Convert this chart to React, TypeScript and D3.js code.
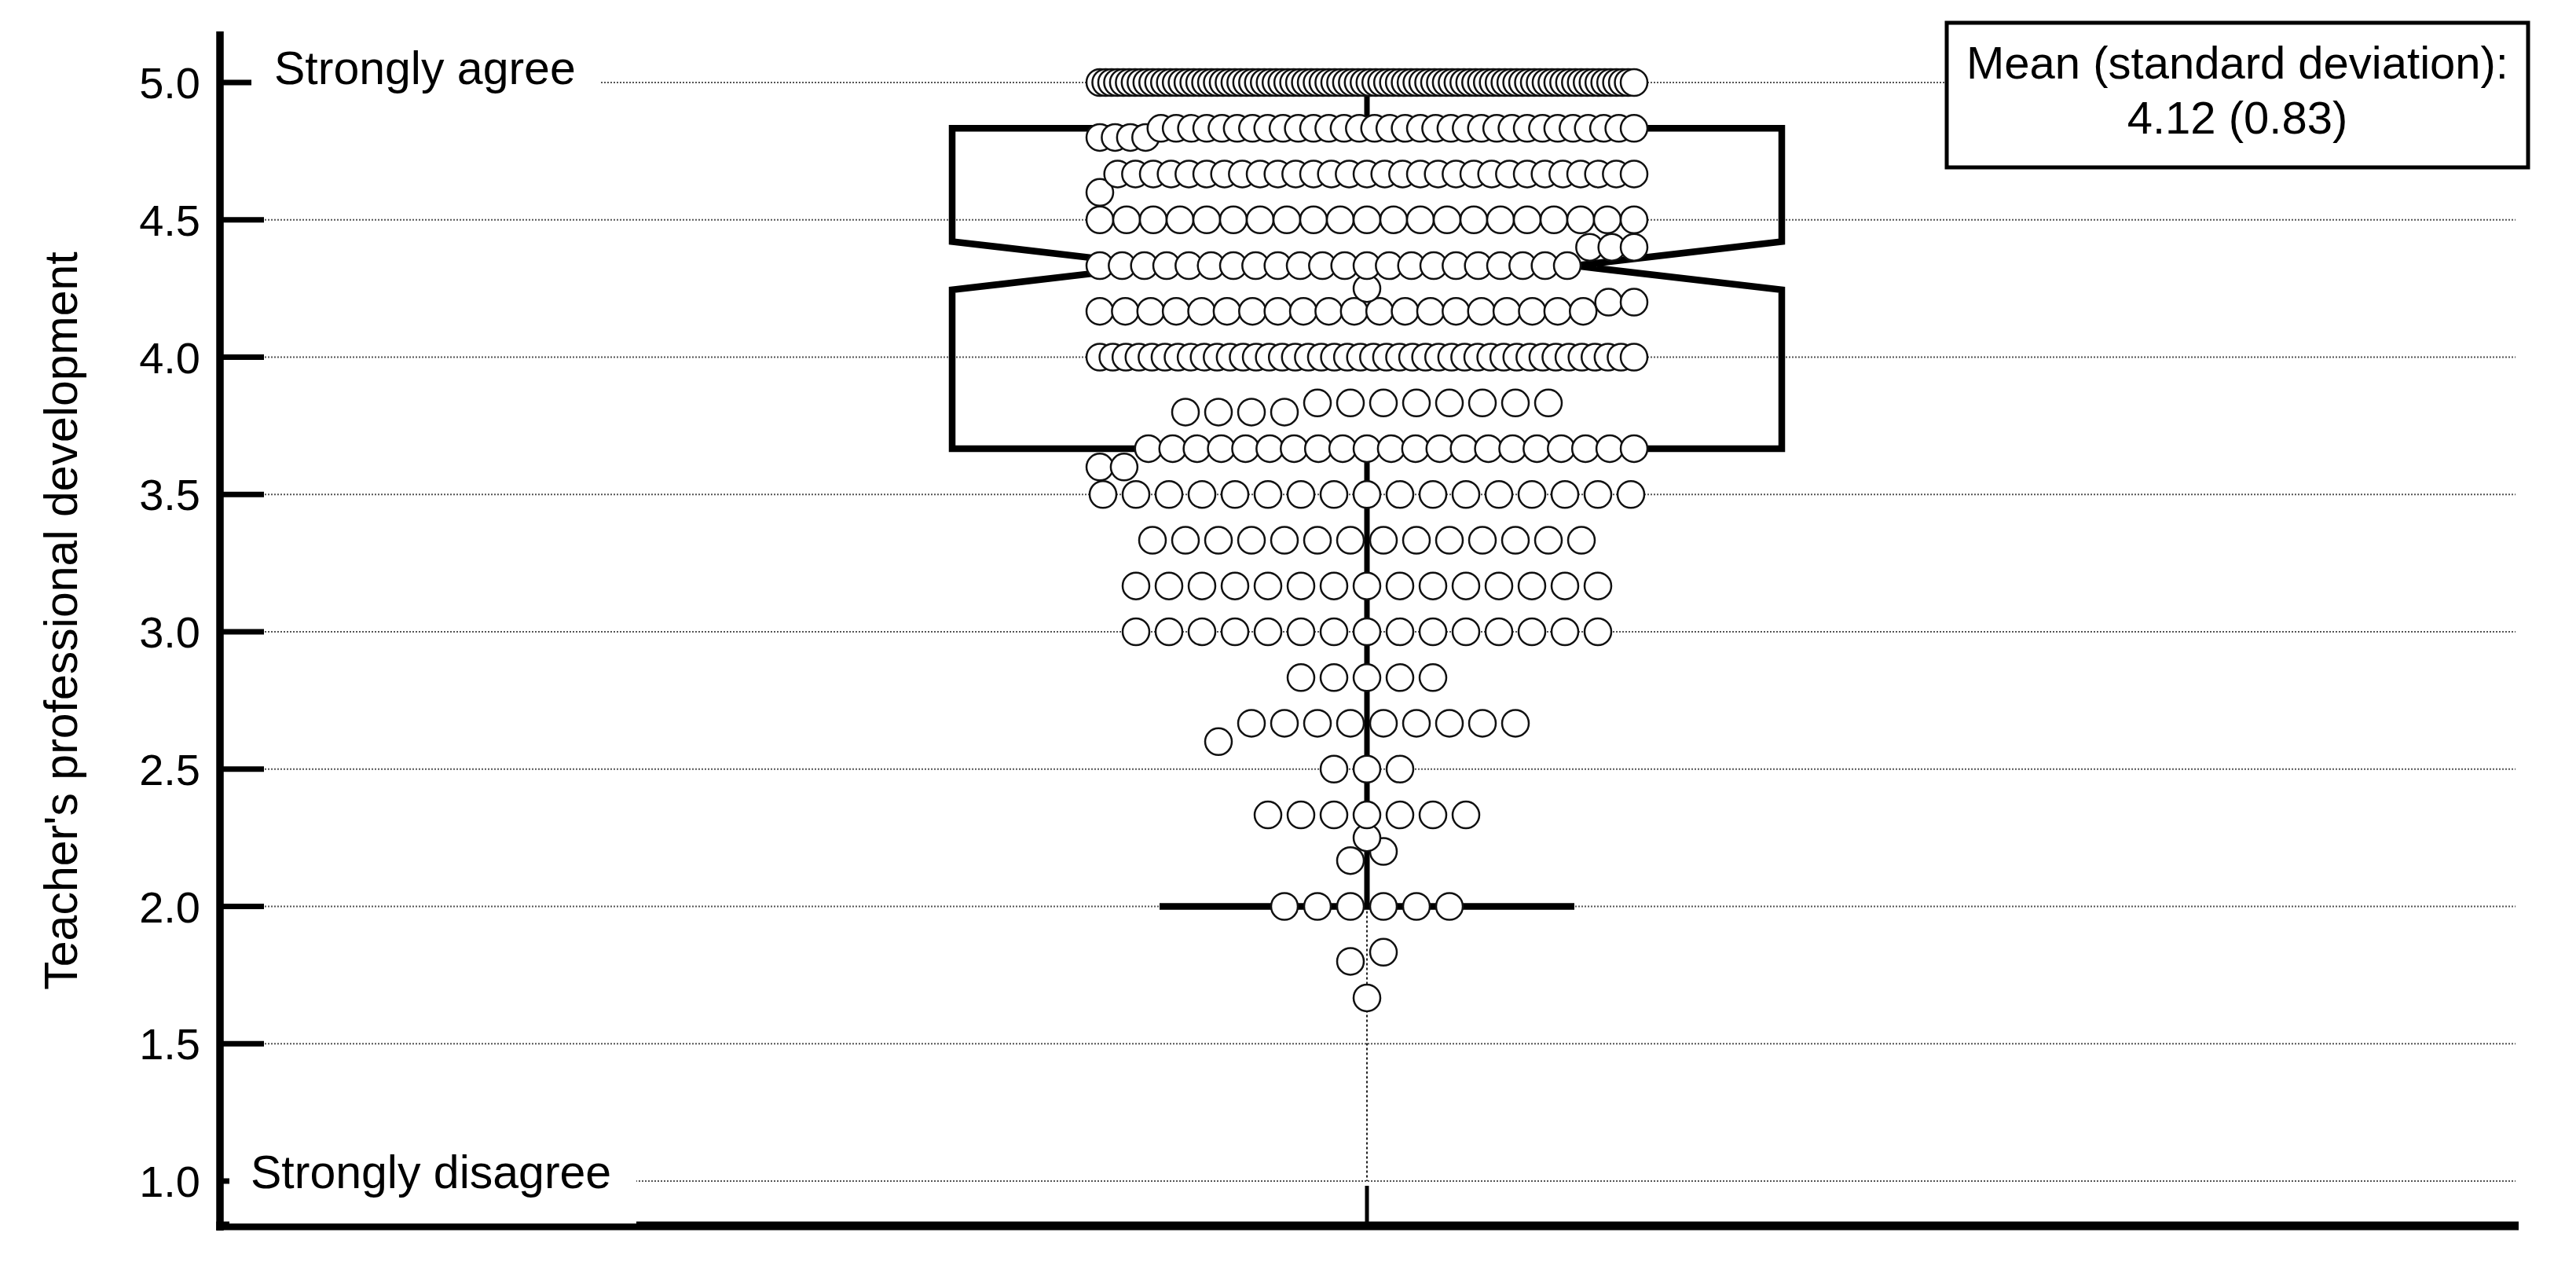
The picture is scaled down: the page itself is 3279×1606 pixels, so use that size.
import React from "react";
import * as d3 from "d3";

// scale scores (means of items, 1 = strongly disagree, 5 = strongly agree) and how many respondents gave each
const scoreValues = [
  1.667, 1.8, 1.833, 2.0, 2.167, 2.2, 2.25, 2.333, 2.5, 2.6, 2.667, 2.833, 3.0, 3.167, 3.333, 3.5,
  3.6, 3.667, 3.8, 3.833, 4.0, 4.167, 4.2, 4.25, 4.333, 4.4, 4.5, 4.6, 4.667, 4.8, 4.833, 5.0,
];
const scoreCounts = [
  1, 1, 1, 6, 1, 1, 1, 7, 3, 1, 9, 5, 15, 15, 14, 17,
  2, 21, 4, 8, 42, 20, 2, 1, 22, 3, 21, 1, 30, 4, 32, 92,
];

const category = ["Teacher's professional development"];
const quartiles = [3.667, 4.333, 4.833]; // q1, median, q3
const notch = [4.245, 4.421];
const whiskers = [2.0, 5.0];
const yTicks = [1.0, 1.5, 2.0, 2.5, 3.0, 3.5, 4.0, 4.5, 5.0];
const endLabels = ["Strongly disagree", "Strongly agree"];
const statsLines = ["Mean (standard deviation):", "4.12 (0.83)"];

const W = 3279;
const H = 1606;
const FONT = "'Liberation Sans', Arial, Helvetica, sans-serif";

const App = () => {
  const y = d3.scaleLinear().domain([1, 5]).range([1503, 105]);
  const x = d3.scalePoint().domain(category).range([280, 3200]).padding(0.5);
  const cx = x(category[0]) as number;

  const boxHalf = 528;
  const notchHalf = boxHalf / 2;
  const r = 17;
  const maxStep = 42;
  const maxSpan = 680;

  // one dot per respondent, grouped into rows by the nearest sixth (4.25 / 2.25 stay on their own)
  const points = scoreValues.flatMap((v, i) => d3.range(scoreCounts[i]).map(() => v));
  const binKey = (v: number) => {
    const k = v * 6;
    const rk = Math.round(k);
    return Math.abs(k - rk) < 0.45 ? rk : k;
  };
  const bins = d3.groups(points, binKey).sort((a, b) => a[0] - b[0]);
  const dots: { x: number; y: number }[] = [];
  bins.forEach(([, vals]) => {
    const sorted = vals.slice().sort(d3.ascending);
    const n = sorted.length;
    const step = n > 1 ? Math.min(maxStep, maxSpan / (n - 1)) : 0;
    sorted.forEach((v, j) => {
      dots.push({ x: cx + (j - (n - 1) / 2) * step, y: y(v) });
    });
  });

  const [q1, med, q3] = quartiles;
  const L = cx - boxHalf;
  const R = cx + boxHalf;
  const boxPath = d3.path();
  boxPath.moveTo(L, y(q3));
  boxPath.lineTo(R, y(q3));
  boxPath.lineTo(R, y(notch[1]));
  boxPath.lineTo(cx + notchHalf, y(med));
  boxPath.lineTo(R, y(notch[0]));
  boxPath.lineTo(R, y(q1));
  boxPath.lineTo(L, y(q1));
  boxPath.lineTo(L, y(notch[0]));
  boxPath.lineTo(cx - notchHalf, y(med));
  boxPath.lineTo(L, y(notch[1]));
  boxPath.closePath();

  const axisX = 280;
  const axisBottom = 1560;
  const fmt = d3.format(".1f");

  const legendX = 2478;
  const legendW = 740;

  return (
    <div style={{ position: "absolute", left: 0, top: 0 }}>
      <svg width={W} height={H} style={{ display: "block", background: "#fff" }} fontFamily={FONT}>
        <rect x={0} y={0} width={W} height={H} fill="#fff" />

        {/* grid */}
        {yTicks.map((t) => (
          <line key={"g" + t} x1={axisX + 5} x2={3202} y1={y(t)} y2={y(t)}
            stroke="#555" strokeWidth={2} strokeDasharray="2,2" />
        ))}
        <line x1={cx} x2={cx} y1={y(whiskers[0])} y2={y(1)} stroke="#222" strokeWidth={2} strokeDasharray="3,3" />

        {/* notched box + whiskers */}
        <path d={boxPath.toString()} fill="none" stroke="#000" strokeWidth={8.5} strokeLinejoin="miter" />
        <line x1={cx - notchHalf} x2={cx + notchHalf} y1={y(med)} y2={y(med)} stroke="#000" strokeWidth={8} />
        <line x1={cx} x2={cx} y1={y(q3)} y2={y(whiskers[1])} stroke="#000" strokeWidth={7} />
        <line x1={cx} x2={cx} y1={y(q1)} y2={y(whiskers[0])} stroke="#000" strokeWidth={7} />
        {whiskers.map((w) => (
          <line key={"c" + w} x1={cx - notchHalf} x2={cx + notchHalf} y1={y(w)} y2={y(w)} stroke="#000" strokeWidth={8.5} />
        ))}

        {/* dots */}
        {dots.map((d, i) => (
          <circle key={i} cx={d.x} cy={d.y} r={r} fill="#fff" stroke="#111" strokeWidth={2.5} />
        ))}

        {/* axes */}
        <line x1={axisX} x2={axisX} y1={40} y2={axisBottom + 6} stroke="#000" strokeWidth={9.5} />
        {yTicks.map((t) => (
          <line key={"t" + t} x1={axisX} x2={336} y1={y(t)} y2={y(t)} stroke="#000" strokeWidth={7} />
        ))}
        <line x1={axisX - 4.75} x2={3206} y1={axisBottom} y2={axisBottom} stroke="#000" strokeWidth={11} />
        <line x1={cx} x2={cx} y1={1509} y2={axisBottom - 4} stroke="#000" strokeWidth={5} />

        {/* end labels with white backing */}
        <rect x={320} y={55} width={443} height={95} fill="#fff" />
        <text x={349} y={y(5) + 2} fontSize={59} fill="#000">{endLabels[1]}</text>
        <rect x={292} y={1452} width={518} height={105} fill="#fff" />
        <text x={319} y={y(1) + 9} fontSize={59} fill="#000">{endLabels[0]}</text>

        {/* tick labels */}
        {yTicks.map((t) => (
          <text key={"l" + t} x={axisX - 25} y={y(t) + 20} fontSize={56} textAnchor="end" fill="#000">
            {fmt(t)}
          </text>
        ))}

        {/* y title */}
        <text transform="translate(98,790) rotate(-90)" fontSize={59} textAnchor="middle" fill="#000">
          {category[0]}
        </text>

        {/* stats box */}
        <rect x={legendX} y={29} width={legendW} height={184} fill="#fff" stroke="#000" strokeWidth={5} />
        {statsLines.map((s, i) => (
          <text key={s} x={legendX + legendW / 2} y={100 + i * 70} fontSize={58} textAnchor="middle" fill="#000">{s}</text>
        ))}
      </svg>
    </div>
  );
};

export default App;
